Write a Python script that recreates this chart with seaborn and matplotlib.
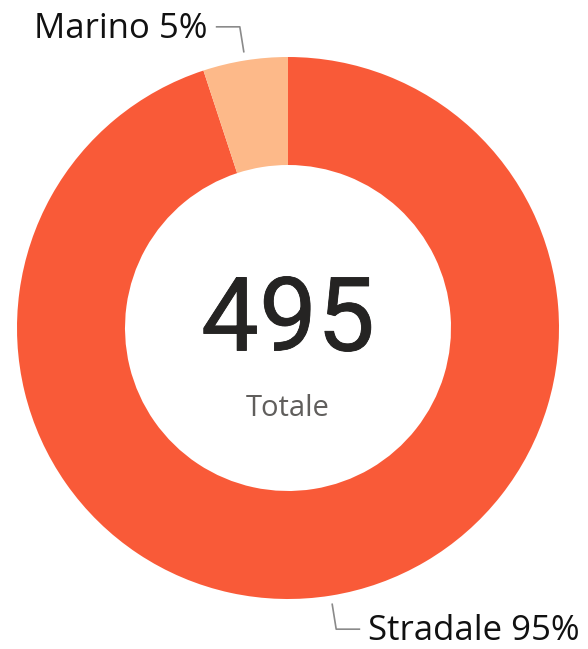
import numpy as np
import matplotlib
matplotlib.use("Agg")
import matplotlib.pyplot as plt
import matplotlib.patheffects as pe
import seaborn as sns

# dati
categorie = ["Stradale", "Marino"]
valori = [470, 25]
colori = ["#F95A38", "#FDB989"]
etichetta_centro = "Totale"

sns.set_theme(style="white")
plt.rcParams["font.family"] = ["Open Sans", "DejaVu Sans"]

W, H = 588, 649
fig = plt.figure(figsize=(W / 100, H / 100), dpi=100)
ax = fig.add_axes([0, 0, 1, 1])

cx, cy = 288, H - 328
r_out, r_in = 271, 163

wedges, _ = ax.pie(valori, colors=colori, startangle=90, counterclock=False,
                   radius=r_out, center=(cx, cy),
                   wedgeprops=dict(width=r_out - r_in, edgecolor="none", linewidth=0))

ax.set_xlim(0, W)
ax.set_ylim(0, H)
ax.set_aspect("equal")
ax.axis("off")

totale = sum(valori)
for w, nome, v in zip(wedges, categorie, valori):
    ang = np.deg2rad((w.theta1 + w.theta2) / 2)
    x0, y0 = cx + (r_out + 8) * np.cos(ang), cy + (r_out + 8) * np.sin(ang)
    x1, y1 = cx + (r_out + 34) * np.cos(ang), cy + (r_out + 34) * np.sin(ang)
    lato = 1 if np.cos(ang) >= 0 else -1
    x2 = x1 + lato * 24
    ax.plot([x0, x1, x2], [y0, y1, y1], color="#8a8a8a", lw=1.2, solid_capstyle="butt")
    pct = round(v / totale * 100)
    ax.text(x2 + lato * 8, y1 - 2, f"{nome} {pct}%", ha="left" if lato > 0 else "right",
            va="center", fontsize=25, color="#111111")

# numero centrale, cifre un po' spaziate
cifre = f"{totale}"
passo = 58
for i, c in enumerate(cifre):
    ax.text(cx + (i - (len(cifre) - 1) / 2) * passo, cy + 6, c, ha="center", va="center",
            fontsize=74, color="#252423", family=["Roboto", "DejaVu Sans"],
            path_effects=[pe.withStroke(linewidth=0.6, foreground="#252423")])
ax.text(cx, cy - 80, etichetta_centro, ha="center", va="center", fontsize=21,
        color="#605E5C")

fig.savefig("out.png", dpi=100)
